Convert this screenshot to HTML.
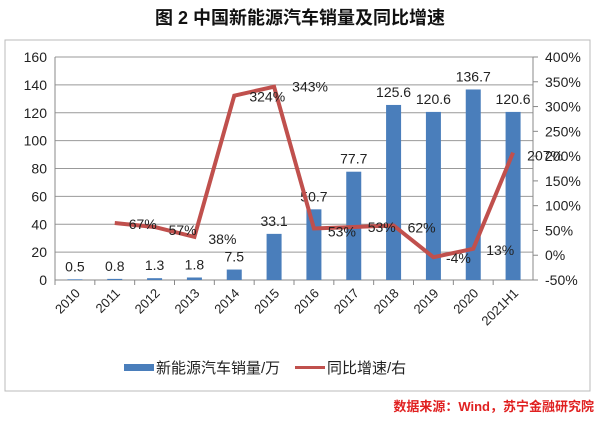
<!DOCTYPE html>
<html><head><meta charset="utf-8"><style>
body{margin:0;width:600px;height:416px;background:#fff;font-family:"Liberation Sans","Noto Sans CJK SC",sans-serif;overflow:hidden}
</style></head><body>
<svg id="c" width="600" height="416" font-family="Liberation Sans, Noto Sans CJK SC, sans-serif">
<text x="300" y="24" text-anchor="middle" font-size="18" font-weight="bold" fill="#111">图 2  中国新能源汽车销量及同比增速</text>
<rect x="5" y="40" width="585" height="351" fill="none" stroke="#bbb"/>
<g id="g"></g>
<g>
<rect x="124" y="364" width="30" height="7" fill="#4a7ebb"/>
<text x="156" y="373" font-size="15" fill="#222">新能源汽车销量/万</text>
<rect x="295" y="366" width="30" height="3" fill="#c0504d"/>
<text x="327" y="373" font-size="15" fill="#222">同比增速/右</text>
</g>
<text x="594" y="411" text-anchor="end" font-size="13" font-weight="bold" fill="#e02020">数据来源：Wind，苏宁金融研究院</text>
</svg>
<script>
const categories=["2010","2011","2012","2013","2014","2015","2016","2017","2018","2019","2020","2021H1"];
const sales=[0.5,0.8,1.3,1.8,7.5,33.1,50.7,77.7,125.6,120.6,136.7,120.6];
const growth=[null,67,57,38,324,343,53,53,62,-4,13,207];
const growthPlot=[null,65,57,37,322,340,54,57,60,-4,13,207];
const leftTicks=[0,20,40,60,80,100,120,140,160];
const rightTicks=[-50,0,50,100,150,200,250,300,350,400];
const X0=55,X1=533,Y0=280,Y1=57;
const band=(X1-X0)/categories.length;
const xc=i=>X0+band*(i+0.5);
const yL=v=>Y0-(v/160)*(Y0-Y1);
const yR=v=>Y0-((v+50)/450)*(Y0-Y1);
const g=document.getElementById('g');
const NS="http://www.w3.org/2000/svg";
function mk(t,a,txt){const e=document.createElementNS(NS,t);for(const k in a)e.setAttribute(k,a[k]);if(txt!=null)e.textContent=txt;g.appendChild(e);return e;}
leftTicks.forEach(v=>{
 const l=mk('line',{x1:X0,x2:X1,y1:yL(v),y2:yL(v),stroke:v===0?'#888':'#999','stroke-width':1});
 
 
 const t=mk('text',{x:X0-8,y:yL(v)+5,'text-anchor':'end','font-size':14,fill:'#222'},String(v));
 
 
});
rightTicks.forEach(v=>{
 const t=mk('text',{x:X1+12,y:yR(v)+5,'font-size':14,fill:'#222'},v+'%');
 
 
 const m=mk('line',{x1:X1,x2:X1+5,y1:yR(v),y2:yR(v),stroke:'#888'});
 
 
});
const la=mk('line',{x1:X0,x2:X0,y1:Y1,y2:Y0,stroke:'#888'});


const ra=mk('line',{x1:X1,x2:X1,y1:Y1,y2:Y0,stroke:'#888'});


categories.forEach((c,i)=>{
 const tk=mk('line',{x1:X0+band*i,x2:X0+band*i,y1:Y0,y2:Y0+5,stroke:'#888'});
 
 
 const x=xc(i),y=Y0+14;
 const t=mk('text',{x:x+6,y:y,'text-anchor':'end','font-size':13,fill:'#222',transform:`rotate(-45 ${x+6} ${y})`},c);
 
 
 const bw=15;
 const b=mk('rect',{x:x-bw/2,y:yL(sales[i]),width:bw,height:Y0-yL(sales[i]),fill:'#4a7ebb'});
 
 
 const bl=mk('text',{x:x,y:yL(sales[i])-8,'text-anchor':'middle','font-size':14,fill:'#222'},String(sales[i]));
 
 
});
const pts=[];growthPlot.forEach((v,i)=>{if(v!=null)pts.push(xc(i)+','+yR(v));});
const pl=mk('polyline',{points:pts.join(' '),fill:'none',stroke:'#c0504d','stroke-width':4,'stroke-linejoin':'miter'});


const offs=[null,[28,1],[28,3],[28,2],[33,1],[36,0],[28,3],[28,0],[28,2],[25,1],[27,1],[32,3]];
growth.forEach((v,i)=>{if(v==null)return;
 const t=mk('text',{x:xc(i)+offs[i][0],y:yR(growthPlot[i])+offs[i][1]+5,'text-anchor':'middle','font-size':14,fill:'#222'},v+'%');
 
 
});
</script>
</body></html>
